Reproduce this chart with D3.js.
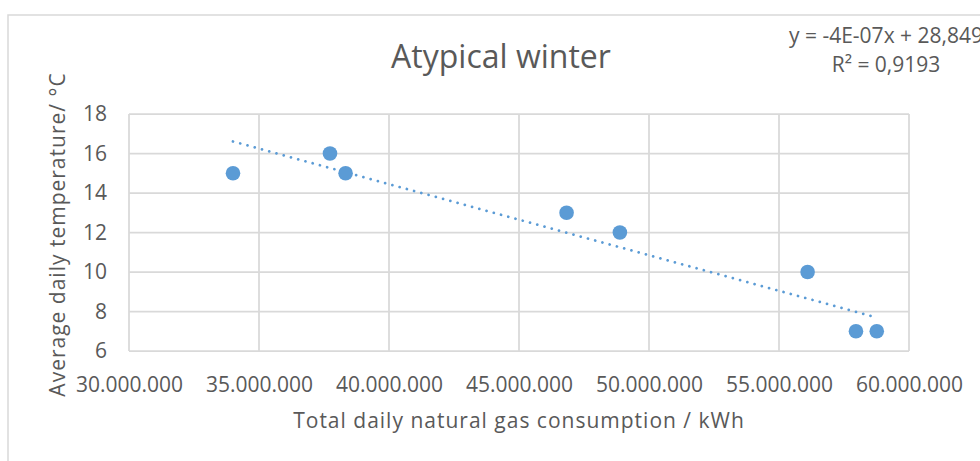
<!DOCTYPE html>
<html>
<head>
<meta charset="utf-8">
<script src="https://cdn.jsdelivr.net/npm/d3@7"></script>
<style>
  body { margin: 0; background: #fff; }
  text { font-family: "Open Sans", sans-serif; fill: #595959; }
</style>
</head>
<body>
<svg id="chart"></svg>
<script>
const width = 980;
const height = 461;

// gas consumption (kWh) vs average daily temperature (°C)
const consumption = [34.0e6, 37.73e6, 38.33e6, 46.83e6, 48.88e6, 56.1e6, 57.96e6, 58.76e6];
const temperature = [15, 16, 15, 13, 12, 10, 7, 7];
const xTicks = [30e6, 35e6, 40e6, 45e6, 50e6, 55e6, 60e6];
const yTicks = [6, 8, 10, 12, 14, 16, 18];
const trendSlope = -3.6e-7;
const trendIntercept = 28.849;
const equationLines = ["y = -4E-07x + 28,849", "R² = 0,9193"];

const plot = {left: 129, right: 909, top: 114, bottom: 351};

svg = d3.select('#chart')
    .attr('width', width)
    .attr('height', height);

// chart area border
svg.append('rect')
    .attr('x', 8).attr('y', 15)
    .attr('width', 1000).attr('height', 500)
    .attr('fill', 'none')
    .attr('stroke', '#d9d9d9')
    .attr('stroke-width', 1.5);

var x = d3.scaleLinear().domain([30e6, 60e6]).range([plot.left, plot.right]);
var y = d3.scaleLinear().domain([6, 18]).range([plot.bottom, plot.top]);

var fmt = d3.formatLocale({decimal: ",", thousands: ".", grouping: [3], currency: ["", ""]}).format(",");

// gridlines
svg.append('g').selectAll('line.v')
    .data(xTicks).enter().append('line')
    .attr('x1', d => x(d)).attr('x2', d => x(d))
    .attr('y1', plot.top).attr('y2', plot.bottom)
    .attr('stroke', '#d9d9d9').attr('stroke-width', 1.75);
svg.append('g').selectAll('line.h')
    .data(yTicks).enter().append('line')
    .attr('x1', plot.left).attr('x2', plot.right)
    .attr('y1', d => y(d)).attr('y2', d => y(d))
    .attr('stroke', '#d9d9d9').attr('stroke-width', 1.75);

// axes (labels only)
var xAxis = svg.append('g')
    .attr('transform', 'translate(0,' + plot.bottom + ')')
    .call(d3.axisBottom(x).tickValues(xTicks).tickFormat(fmt).tickSize(0).tickPadding(26));
var yAxis = svg.append('g')
    .attr('transform', 'translate(' + plot.left + ',0)')
    .call(d3.axisLeft(y).tickValues(yTicks).tickSize(0).tickPadding(22));
[xAxis, yAxis].forEach(function(a){
    a.select('.domain').remove();
    a.selectAll('text')
        .attr('fill', '#595959')
        .style('font-family', '"Open Sans", sans-serif')
        .style('font-size', '21px');
});

// trendline over the data range
var xr = d3.extent(consumption);
var line = d3.line().x(d => x(d)).y(d => y(trendSlope * d + trendIntercept));
svg.append('path')
    .datum(xr)
    .attr('d', line)
    .attr('fill', 'none')
    .attr('stroke', '#5b9bd5')
    .attr('stroke-width', 2.75)
    .attr('stroke-linecap', 'round')
    .attr('stroke-dasharray', '0.01 7.5');

// points
svg.append('g').selectAll('circle')
    .data(d3.zip(consumption, temperature)).enter().append('circle')
    .attr('cx', d => x(d[0]))
    .attr('cy', d => y(d[1]))
    .attr('r', 7.3)
    .attr('fill', '#5b9bd5');

// titles
svg.append('text')
    .attr('x', 501).attr('y', 68)
    .attr('text-anchor', 'middle')
    .style('font-size', '32px')
    .text('Atypical winter');

svg.append('text')
    .attr('x', (plot.left + plot.right) / 2).attr('y', 428)
    .attr('text-anchor', 'middle')
    .style('font-size', '21px')
    .style('letter-spacing', '1px')
    .text('Total daily natural gas consumption / kWh');

svg.append('text')
    .attr('transform', 'translate(65,' + ((plot.top + plot.bottom) / 2 + 2) + ') rotate(-90)')
    .attr('text-anchor', 'middle')
    .style('font-size', '21px')
    .style('letter-spacing', '1px')
    .text('Average daily temperature/ °C');

// trendline label
svg.append('g').selectAll('text')
    .data(equationLines).enter().append('text')
    .attr('x', 886)
    .attr('y', (d, i) => 43 + i * 29)
    .attr('text-anchor', 'middle')
    .style('font-size', '21px')
    .text(d => d);
</script>
</body>
</html>
